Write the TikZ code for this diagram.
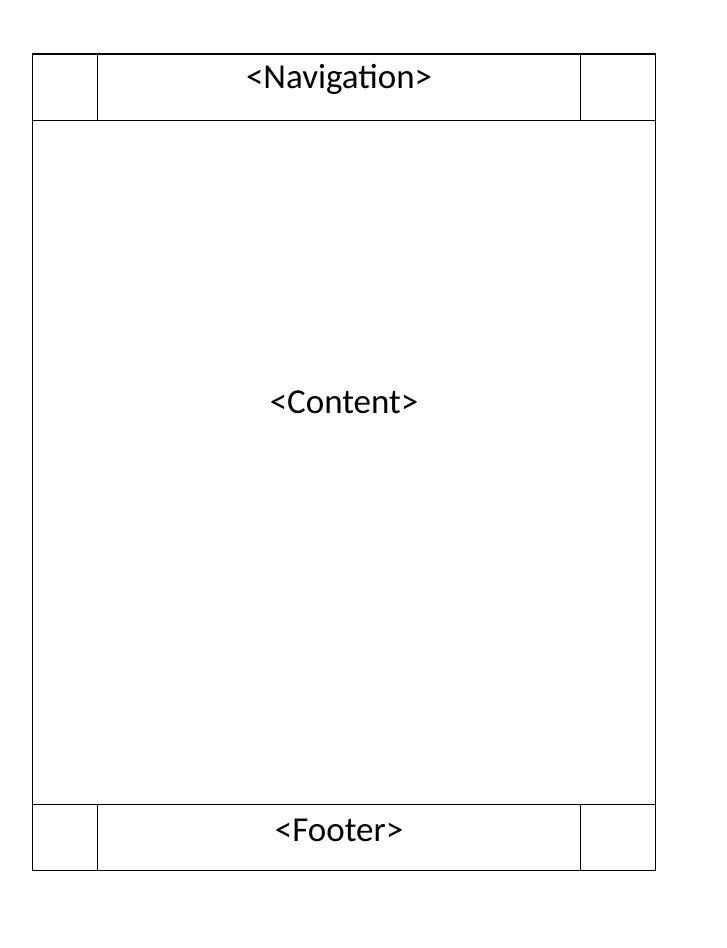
\documentclass[tikz,border=0pt]{standalone}
\usepackage{fontspec}
\setmainfont{Carlito}
\usetikzlibrary{calc, positioning}
\tikzstyle{cell}=[shape=rectangle, draw=black, line width=1.1pt, inner sep=0pt, anchor=north west]
\tikzstyle{label}=[inner sep=0pt, font=\fontsize{35}{38}\selectfont]

\begin{document}
\begin{tikzpicture}[x=1pt, y=-1pt]
\useasboundingbox (0,0) rectangle (726,948);
\fill [white] (0,0) rectangle (726,948);
% header row
\node [cell, minimum width=65pt, minimum height=66pt] (navl) at (32,54){};
\node [cell, minimum width=483pt, minimum height=66pt] (nav) at (97,54){};
\node [cell, minimum width=75pt, minimum height=66pt] (navr) at (580,54){};
% content
\node [cell, minimum width=623pt, minimum height=684pt] (content) at (32,120){};
% footer row
\node [cell, minimum width=65pt, minimum height=66pt] (footl) at (32,804){};
\node [cell, minimum width=483pt, minimum height=66pt] (foot) at (97,804){};
\node [cell, minimum width=75pt, minimum height=66pt] (footr) at (580,804){};
\draw [line width=2.2pt] (navl.north west) -- (navr.north east);
\tikzstyle{every node}=[label];
\node (navtext) at ($(nav.center)+(0,-8)$){<Navigation>};
\node (contenttext) at ($(content.center)+(0,-60)$){<Content>};
\node (foottext) at ($(foot.center)+(0,-7)$){<Footer>};
\end{tikzpicture}
\end{document}
